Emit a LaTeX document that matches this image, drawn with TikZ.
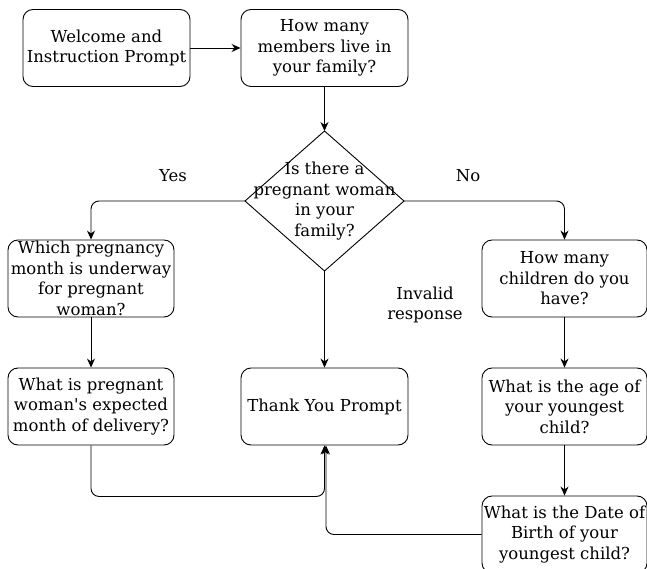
\documentclass[tikz,border=0pt]{standalone}
\usepackage{fontspec}
\setmainfont{DejaVu Serif}
\usetikzlibrary{arrows.meta}
\begin{document}
\begin{tikzpicture}[x=1pt,y=-1pt,
  box/.style={draw, rounded corners=10pt, line width=0.9pt, minimum width=167pt, minimum height=77pt, align=center, inner sep=1pt, font=\fontsize{16.5}{20.5}\selectfont},
  lbl/.style={align=center, font=\fontsize{16.5}{20.5}\selectfont},
  arr/.style={draw, line width=0.9pt, -{Stealth[length=9pt,width=8pt]}, rounded corners=8pt}]
\useasboundingbox (0,0) rectangle (647,569);
\begin{scope}
\clip (0,0) rectangle (647,569);
\node[box] (welcome) at (106.5,48) {Welcome and\\Instruction Prompt};
\node[box] (members) at (324.5,48) {How many\\members live in\\your family?};
\coordinate (dtop) at (324.5,131);
\coordinate (dleft) at (245,201);
\coordinate (dright) at (404,201);
\coordinate (dbot) at (324.5,271);
\path[draw, line width=0.9pt] (dtop) -- (dright) -- (dbot) -- (dleft) -- cycle;
\node[lbl] (dtext) at (324.5,201) {Is there a\\pregnant woman\\in your\\family?};
\node[box, minimum width=166pt] (month) at (91,278.5) {Which pregnancy\\month is underway\\for pregnant\\woman?};
\node[box, minimum width=166pt] (delivery) at (91,406.5) {What is pregnant\\woman\textquotesingle s expected\\month of delivery?};
\node[box] (thanks) at (324.5,406.5) {Thank You Prompt};
\node[box, minimum width=165pt] (children) at (564.5,278.5) {How many\\children do you\\have?};
\node[box, minimum width=165pt] (age) at (564.5,406.5) {What is the age of\\your youngest\\child?};
\node[box, minimum width=165pt] (dob) at (564.5,534.5) {What is the Date of\\Birth of your\\youngest child?};
\node[lbl] (yes) at (173,176) {Yes};
\node[lbl] (no) at (468,176) {No};
\node[lbl] (inv) at (425,305) {Invalid\\response};
\path[arr] (welcome) -- (members);
\path[arr] (members) -- (dtop);
\path[arr] (dleft) -| (month);
\path[arr] (dright) -| (children);
\path[arr] (dbot) -- (thanks);
\path[arr] (month) -- (delivery);
\path[arr] (children) -- (age);
\path[arr] (age) -- (dob);
\path[arr] (delivery.south) -- ++(0,51) -| (thanks.south);
\path[arr] (dob.west) -| ([xshift=1.5pt]thanks.south);
\end{scope}
\end{tikzpicture}
\end{document}
